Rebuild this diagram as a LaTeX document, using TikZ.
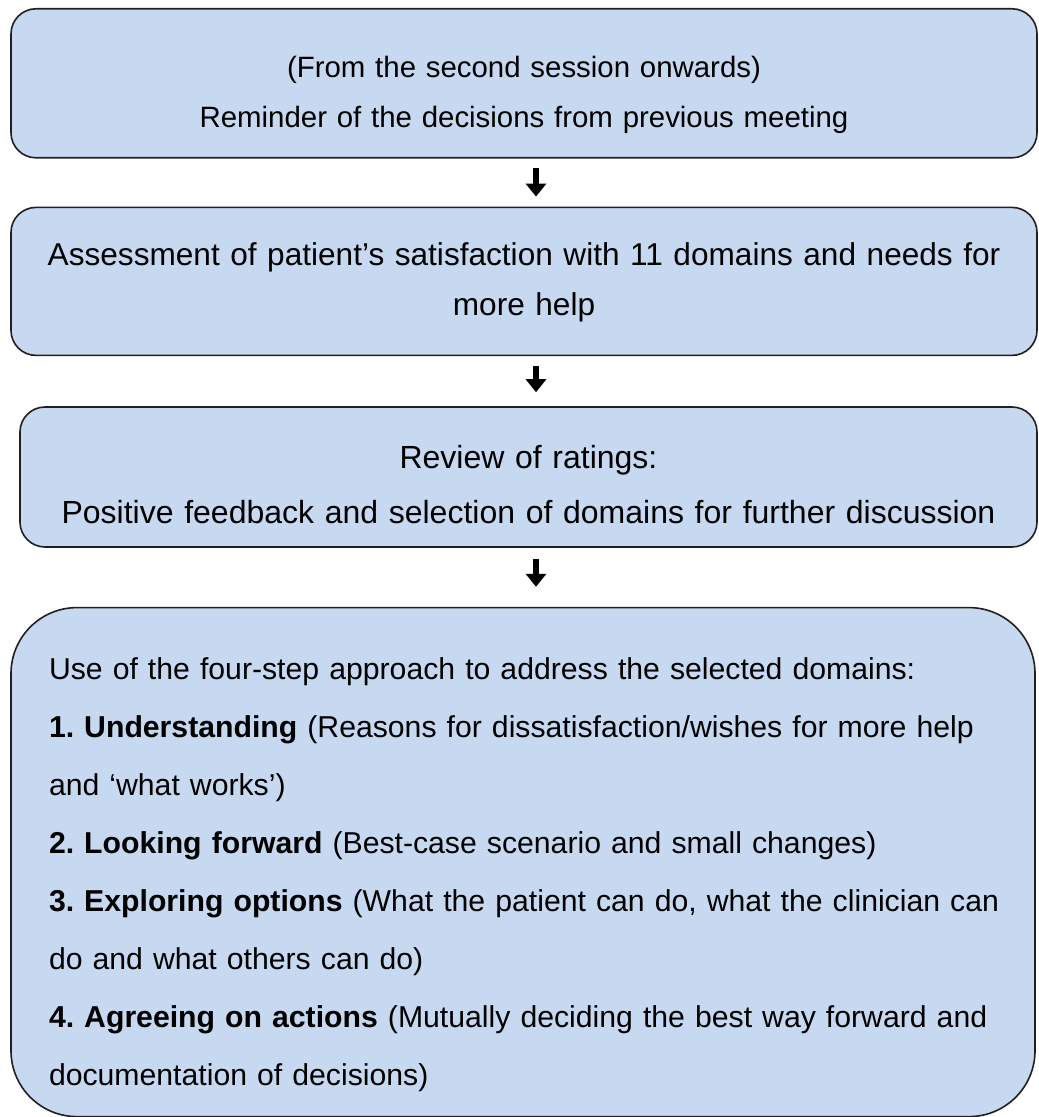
\documentclass[tikz,border=0pt]{standalone}
\usepackage{fontspec}
\setmainfont{Liberation Sans}
\usetikzlibrary{arrows.meta,positioning}
\definecolor{boxblue}{RGB}{198,217,240}
\definecolor{boxline}{RGB}{35,31,32}
\frenchspacing
% struts fixing the first baseline and the space under the last one
\newcommand{\topgap}[1]{\rule{0pt}{#1}}
\newcommand{\botgap}[1]{\rule[-#1]{0pt}{#1}}

\begin{document}
\begin{tikzpicture}[node distance= 24pt,
    box/.style={draw= boxline, line width= 0.8pt, fill= boxblue,
      rounded corners= 12.5pt, minimum width= 513pt, inner ysep= 0pt,
      inner xsep= 6pt, text width= 501pt, align= center},
    arr/.style={line width= 2.6pt, -{Triangle[width= 10pt, length= 6.5pt]}}]
      \useasboundingbox (0,0) rectangle (519pt,-558.5pt);
      \begin{scope}[every node/.style={box}]
        \node (remind) [below= 4pt of {262pt,0pt}, font=\fontsize{14.7}{25}\selectfont]
          {\topgap{34.5pt}(From the second session onwards)\\Reminder of the decisions from previous meeting\botgap{15pt}};
        \node (assess) [below= of remind, font=\fontsize{15.8}{25}\selectfont]
          {\topgap{29pt}Assessment of patient’s satisfaction with 11 domains and needs for\\more help\botgap{20pt}};
        \node (review) [below= 25pt of assess, xshift= 2.25pt, minimum width= 508.5pt,
          text width= 496.5pt, font=\fontsize{16}{27.5}\selectfont]
          {\topgap{30.5pt}Review of ratings:\\Positive feedback and selection of domains for further discussion\botgap{12pt}};
        \node (steps) [below= 29.5pt of review, xshift= -2.75pt, minimum width= 512pt,
          rounded corners= 33pt, inner xsep= 19pt,
          text width= 474pt, align= left, font=\fontsize{15.1}{29}\selectfont]
          {\topgap{36pt}Use of the four-step approach to address the selected domains:\\
           \mbox{\textbf{1. Understanding} (Reasons for dissatisfaction/wishes for more help}\\
           and ‘what works’)\\
           \textbf{2. Looking forward} (Best-case scenario and small changes)\\
           \mbox{\textbf{3. Exploring options} (What the patient can do, what the clinician can}\\
           do and what others can do)\\
           \mbox{\textbf{4. Agreeing on actions} (Mutually deciding the best way forward and}\\
           documentation of decisions)\botgap{15.5pt}};
      \end{scope}
      \begin{scope}[every path/.style={arr}]
        \draw[shorten <= 4.5pt, shorten >= 5pt] ([xshift= 6pt]remind.south) -- ([xshift= 6pt]assess.north);
        \draw[shorten <= 5pt, shorten >= 7pt] ([xshift= 6pt]assess.south) -- ([xshift= 3.75pt]review.north);
        \draw[shorten <= 5.5pt, shorten >= 10pt] ([xshift= 3.75pt]review.south) -- ([xshift= 6.5pt]steps.north);
      \end{scope}
    \end{tikzpicture}
\end{document}
